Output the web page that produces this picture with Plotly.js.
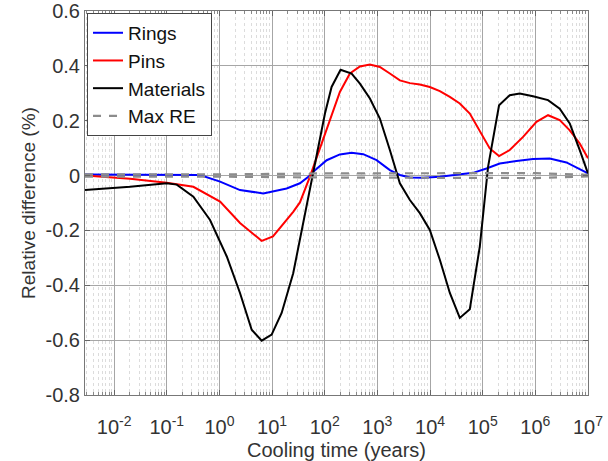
<!DOCTYPE html>
<html>
<head>
<meta charset="utf-8">
<script src="https://cdn.plot.ly/plotly-3.0.1.min.js"></script>
<style>html,body{margin:0;padding:0;background:#fff;}#chart{width:608px;height:461px;}</style>
</head>
<body>
<div id="chart"></div>
<script>
// Cooling time (years) and relative difference (%) per series
const ringsT = [0.0028, 0.1, 0.428, 1.03, 2.46, 6.81, 18.9, 33.8, 52.4, 60.5, 109, 194, 324, 538, 966, 1726, 2673, 4140, 7396, 15350, 31850, 65780, 118000, 210900, 437500, 903600, 1875000, 3890000, 10000000];
const ringsV = [0.004, 0.004, 0.002, -0.022, -0.053, -0.065, -0.047, -0.028, 0.0, 0.014, 0.056, 0.077, 0.083, 0.078, 0.056, 0.02, 0.002, -0.007, -0.008, -0.004, 0.002, 0.01, 0.026, 0.044, 0.053, 0.06, 0.062, 0.048, 0.008];

const pinsT = [0.0028, 0.0201, 0.1, 0.32, 1.03, 2.46, 6.35, 10.4, 25.2, 33.8, 52.4, 109, 194, 301, 466, 721, 1115, 1726, 2673, 4140, 6400, 9910, 15350, 23770, 36730, 56900, 88100, 136100, 204600, 326600, 584800, 1050000, 1742000, 2904000, 4500000, 6970000, 10000000];
const pinsV = [0.0, -0.012, -0.026, -0.041, -0.095, -0.173, -0.238, -0.222, -0.132, -0.098, -0.004, 0.165, 0.305, 0.372, 0.398, 0.405, 0.396, 0.372, 0.347, 0.337, 0.332, 0.323, 0.308, 0.287, 0.263, 0.226, 0.165, 0.099, 0.071, 0.093, 0.141, 0.196, 0.22, 0.202, 0.165, 0.117, 0.063];

const matsT = [0.0028, 0.0201, 0.1, 0.155, 0.32, 0.664, 1.38, 2.46, 4.10, 6.35, 9.82, 15.2, 25.2, 39.1, 60.5, 81.1, 101, 135, 200, 324, 466, 721, 1115, 1726, 2673, 4140, 6400, 9910, 15350, 23770, 36730, 56900, 88100, 126500, 204600, 326600, 505800, 903600, 1742000, 2904000, 4500000, 6970000, 10000000];
const matsV = [-0.053, -0.041, -0.028, -0.033, -0.077, -0.162, -0.295, -0.428, -0.562, -0.602, -0.58, -0.501, -0.356, -0.174, 0.02, 0.129, 0.226, 0.323, 0.386, 0.372, 0.335, 0.281, 0.208, 0.093, -0.028, -0.089, -0.137, -0.198, -0.307, -0.428, -0.519, -0.487, -0.259, 0.032, 0.256, 0.293, 0.299, 0.289, 0.275, 0.244, 0.19, 0.093, 0.008];

const reT = [0.0028, 1, 100, 10000, 1000000, 10000000];
const reUpper = [0.004, 0.004, 0.008, 0.009, 0.009, 0.003];
const reLower = [-0.004, -0.004, -0.007, -0.009, -0.009, -0.003];

const xTickVals = [0.01, 0.1, 1, 10, 100, 1000, 10000, 100000, 1000000, 10000000];
const xTickText = ['10<sup>-2</sup>', '10<sup>-1</sup>', '10<sup>0</sup>', '10<sup>1</sup>', '10<sup>2</sup>', '10<sup>3</sup>', '10<sup>4</sup>', '10<sup>5</sup>', '10<sup>6</sup>', '10<sup>7</sup>'];
const yTickVals = [0.6, 0.4, 0.2, 0, -0.2, -0.4, -0.6, -0.8];
const yTickText = ['0.6', '0.4', '0.2', '0', '-0.2', '-0.4', '-0.6', '-0.8'];

const minorVals = [];
for (let k = -3; k <= 6; k++) {
  for (let m = 2; m <= 9; m++) minorVals.push(m * Math.pow(10, k));
}

const traces = [
  {x: ringsT, y: ringsV, name: 'Rings', mode: 'lines', line: {color: '#0000ff', width: 2}},
  {x: pinsT, y: pinsV, name: 'Pins', mode: 'lines', line: {color: '#ff0000', width: 2}},
  {x: matsT, y: matsV, name: 'Materials', mode: 'lines', line: {color: '#000000', width: 2}},
  {x: reT, y: reUpper, name: 'Max RE', mode: 'lines', line: {color: '#8c8c8c', width: 2.2, dash: '8px,8px'}, legendgroup: 're'},
  {x: reT, y: reLower, name: 'Max RE', mode: 'lines', line: {color: '#8c8c8c', width: 2.2, dash: '8px,8px'}, legendgroup: 're', showlegend: false}
];

const fam = 'Arial, "Liberation Sans", sans-serif';
const txt = '#333';

const layout = {
  width: 608, height: 461,
  margin: {l: 85, r: 20, t: 10.5, b: 65.5},
  paper_bgcolor: '#fff', plot_bgcolor: '#fff',
  font: {family: fam, color: txt, size: 19},
  showlegend: true,
  legend: {
    x: 0.004, y: 0.995, xanchor: 'left', yanchor: 'top',
    bgcolor: '#fff', bordercolor: '#444', borderwidth: 1,
    font: {family: fam, size: 19, color: '#111'},
    tracegroupgap: 0
  },
  xaxis: {
    type: 'log',
    range: [Math.log10(0.0028), 7],
    tickmode: 'array', tickvals: xTickVals, ticktext: xTickText,
    ticks: 'inside', ticklen: 5, tickcolor: '#666',
    ticklabelstandoff: 14,
    showgrid: true, gridcolor: '#a6a6a6', gridwidth: 1,
    showline: true, linecolor: '#777', linewidth: 1, mirror: 'ticks',
    zeroline: false,
    tickfont: {family: fam, size: 20, color: txt},
    minor: {tickmode: 'array', tickvals: minorVals, ticks: 'inside', ticklen: 3, tickcolor: '#888', showgrid: true, gridcolor: '#dcdcdc', griddash: 'dot', gridwidth: 1},
    title: {text: 'Cooling time (years)', font: {family: fam, size: 20, color: txt}, standoff: 6}
  },
  yaxis: {
    range: [-0.8, 0.6],
    tickmode: 'array', tickvals: yTickVals, ticktext: yTickText,
    ticks: 'inside', ticklen: 5, tickcolor: '#666',
    showgrid: true, gridcolor: '#a6a6a6', gridwidth: 1,
    showline: true, linecolor: '#777', linewidth: 1, mirror: 'ticks',
    zeroline: false,
    tickfont: {family: fam, size: 20, color: txt},
    title: {text: 'Relative difference (%)', font: {family: fam, size: 19, color: txt}, standoff: 4}
  }
};

Plotly.newPlot('chart', traces, layout, {displayModeBar: false, staticPlot: true});
</script>
</body>
</html>
